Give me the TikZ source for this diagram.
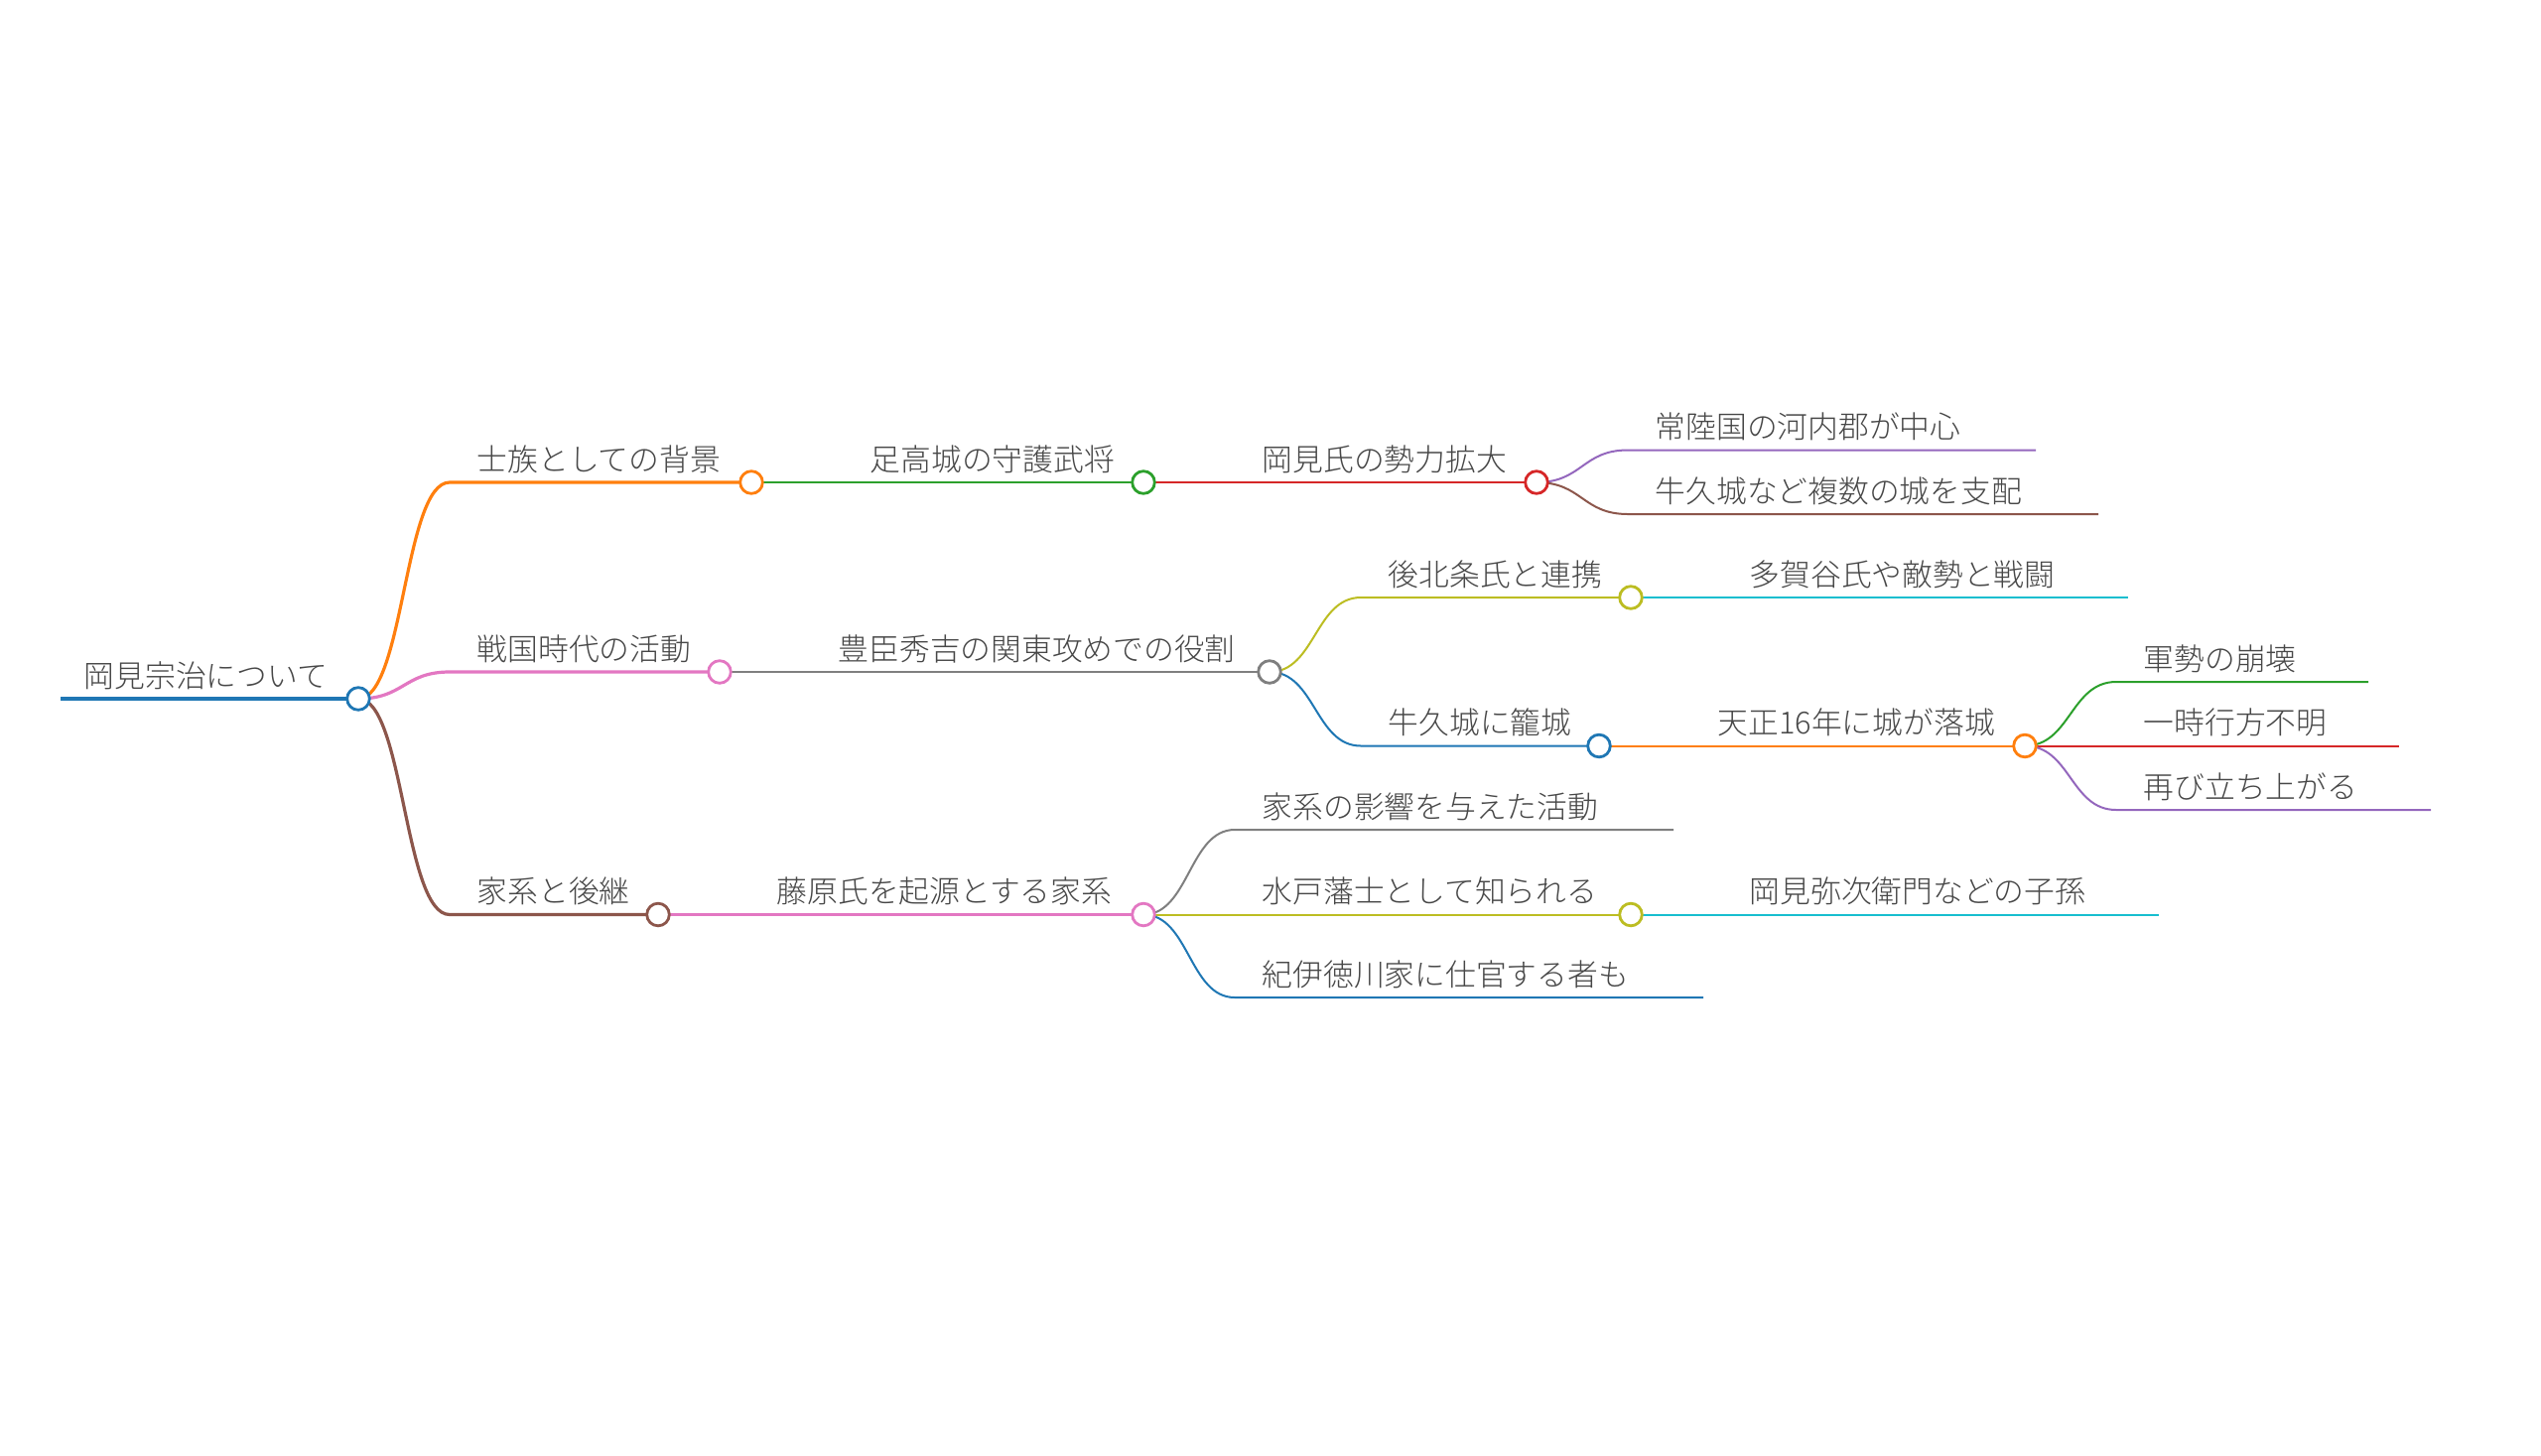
\documentclass[tikz,border=0pt]{standalone}
\usepackage{fontspec}
\setmainfont{Noto Sans CJK JP}[UprightFont=* Light]
\definecolor{mmblue}{HTML}{1F77B4}
\definecolor{mmorange}{HTML}{FF7F0E}
\definecolor{mmgreen}{HTML}{2CA02C}
\definecolor{mmred}{HTML}{D62728}
\definecolor{mmpurple}{HTML}{9467BD}
\definecolor{mmbrown}{HTML}{8C564B}
\definecolor{mmpink}{HTML}{E377C2}
\definecolor{mmgray}{HTML}{7F7F7F}
\definecolor{mmolive}{HTML}{BCBD22}
\definecolor{mmcyan}{HTML}{17BECF}
\tikzset{
  lbl/.style={anchor=base west, inner sep=0pt, font=\fontsize{8.75pt}{10pt}\selectfont, text=black!72},
  dot/.style={circle, draw, fill=white, minimum size=0.226cm, inner sep=0pt, line width=0.028cm},
  rootline/.style={line width=0.045cm},
  lvA/.style={line width=0.032cm},
  lvB/.style={line width=0.024cm},
  lvC/.style={line width=0.02cm},
  link/.style={line cap=round}
}

\begin{document}
\begin{tikzpicture}[x=0.01cm,y=-0.01cm]
\useasboundingbox (0,0) rectangle (2560,1466);
% circles and line starts
\coordinate (root-s) at (61,704);   \coordinate (root) at (361,704);
\coordinate (a-s) at (453,486);     \coordinate (a) at (757,486);
\coordinate (aa-s) at (849,486);    \coordinate (aa) at (1152,486);
\coordinate (aaa-s) at (1244,486);  \coordinate (aaa) at (1548,486);
\coordinate (aaaa-s) at (1640,453.5); \coordinate (aaaa) at (2051,453.5);
\coordinate (aaab-s) at (1640,518); \coordinate (aaab) at (2114,518);
\coordinate (b-s) at (453,677);     \coordinate (b) at (725,677);
\coordinate (ba-s) at (817,677);    \coordinate (ba) at (1279,677);
\coordinate (baa-s) at (1371,602);  \coordinate (baa) at (1643,602);
\coordinate (baaa-s) at (1735,602); \coordinate (baaa) at (2144,602);
\coordinate (bab-s) at (1371,751.5); \coordinate (bab) at (1611,751.5);
\coordinate (baba-s) at (1703,751.5); \coordinate (baba) at (2040,751.5);
\coordinate (babaa-s) at (2132,687); \coordinate (babaa) at (2386,687);
\coordinate (babab-s) at (2132,751.5); \coordinate (babab) at (2417,751.5);
\coordinate (babac-s) at (2132,816); \coordinate (babac) at (2449,816);
\coordinate (c-s) at (453,921.5);   \coordinate (c) at (663,921.5);
\coordinate (ca-s) at (755,921.5);  \coordinate (ca) at (1152,921.5);
\coordinate (caa-s) at (1244,836);  \coordinate (caa) at (1686,836);
\coordinate (cab-s) at (1244,921.5); \coordinate (cab) at (1643,921.5);
\coordinate (caba-s) at (1735,921.5); \coordinate (caba) at (2175,921.5);
\coordinate (cac-s) at (1244,1005); \coordinate (cac) at (1716,1005);

% links
\draw[mmblue, rootline] (root-s) -- (root);
\draw[mmorange, lvA] (root) .. controls +(46,0) and +(-46,0) .. (a-s) -- (a);
\draw[mmpink, lvA] (root) .. controls +(46,0) and +(-46,0) .. (b-s) -- (b);
\draw[mmbrown, lvA] (root) .. controls +(46,0) and +(-46,0) .. (c-s) -- (c);
\draw[mmgreen, lvB] (a) -- (aa-s) -- (aa);
\draw[mmred, lvC] (aa) -- (aaa-s) -- (aaa);
\draw[mmpurple, lvC] (aaa) .. controls +(46,0) and +(-46,0) .. (aaaa-s) -- (aaaa);
\draw[mmbrown, lvC] (aaa) .. controls +(46,0) and +(-46,0) .. (aaab-s) -- (aaab);
\draw[mmgray, lvB] (b) -- (ba-s) -- (ba);
\draw[mmolive, lvC] (ba) .. controls +(46,0) and +(-46,0) .. (baa-s) -- (baa);
\draw[mmcyan, lvC] (baa) -- (baaa-s) -- (baaa);
\draw[mmblue, lvC] (ba) .. controls +(46,0) and +(-46,0) .. (bab-s) -- (bab);
\draw[mmorange, lvC] (bab) -- (baba-s) -- (baba);
\draw[mmgreen, lvC] (baba) .. controls +(46,0) and +(-46,0) .. (babaa-s) -- (babaa);
\draw[mmred, lvC] (baba) -- (babab-s) -- (babab);
\draw[mmpurple, lvC] (baba) .. controls +(46,0) and +(-46,0) .. (babac-s) -- (babac);
\draw[mmpink, lvB] (c) -- (ca-s) -- (ca);
\draw[mmgray, lvC] (ca) .. controls +(46,0) and +(-46,0) .. (caa-s) -- (caa);
\draw[mmolive, lvC] (ca) -- (cab-s) -- (cab);
\draw[mmcyan, lvC] (cab) -- (caba-s) -- (caba);
\draw[mmblue, lvC] (ca) .. controls +(46,0) and +(-46,0) .. (cac-s) -- (cac);

% dots
\foreach \n/\c in {root/mmblue, a/mmorange, aa/mmgreen, aaa/mmred, b/mmpink,
  ba/mmgray, baa/mmolive, bab/mmblue, baba/mmorange, c/mmbrown, ca/mmpink, cab/mmolive}
  \node[dot, draw=\c] at (\n) {};

% labels
\node[lbl] (root-t) at (84,692) {岡見宗治について};
\node[lbl] (a-t) at (480,474) {士族としての背景};
\node[lbl] (aa-t) at (876,474) {足高城の守護武将};
\node[lbl] (aaa-t) at (1271,474) {岡見氏の勢力拡大};
\node[lbl] (aaaa-t) at (1667,441.5) {常陸国の河内郡が中心};
\node[lbl] (aaab-t) at (1667,506) {牛久城など複数の城を支配};
\node[lbl] (b-t) at (480,665) {戦国時代の活動};
\node[lbl] (ba-t) at (844,665) {豊臣秀吉の関東攻めでの役割};
\node[lbl] (baa-t) at (1398,590) {後北条氏と連携};
\node[lbl] (baaa-t) at (1762,590) {多賀谷氏や敵勢と戦闘};
\node[lbl] (bab-t) at (1398,739.5) {牛久城に籠城};
\node[lbl] (baba-t) at (1730,739.5) {天正16年に城が落城};
\node[lbl] (babaa-t) at (2159,675) {軍勢の崩壊};
\node[lbl] (babab-t) at (2159,739.5) {一時行方不明};
\node[lbl] (babac-t) at (2159,804) {再び立ち上がる};
\node[lbl] (c-t) at (480,909.5) {家系と後継};
\node[lbl] (ca-t) at (782,909.5) {藤原氏を起源とする家系};
\node[lbl] (caa-t) at (1271,824) {家系の影響を与えた活動};
\node[lbl] (cab-t) at (1271,909.5) {水戸藩士として知られる};
\node[lbl] (caba-t) at (1762,909.5) {岡見弥次衛門などの子孫};
\node[lbl] (cac-t) at (1271,993) {紀伊徳川家に仕官する者も};
\end{tikzpicture}
\end{document}
